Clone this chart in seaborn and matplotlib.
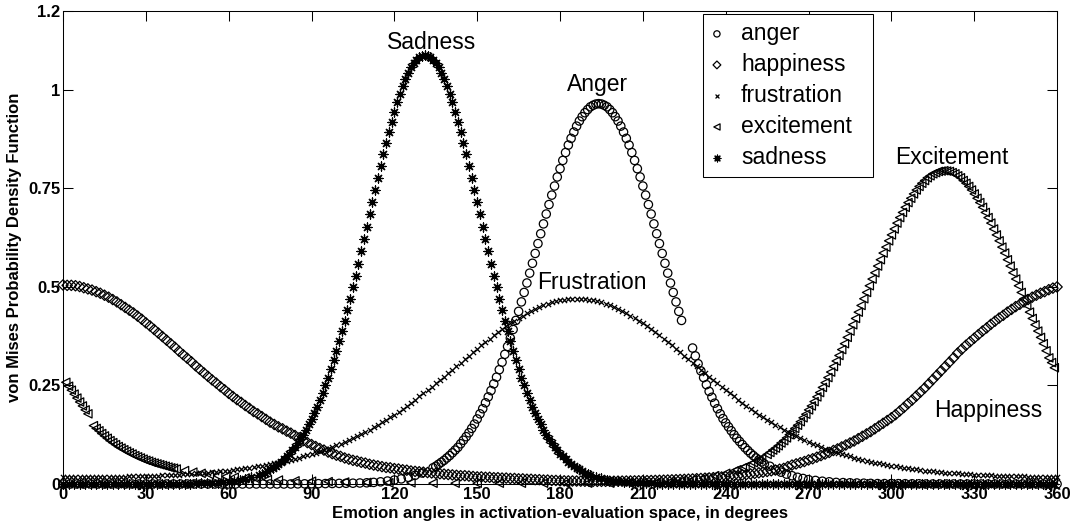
import matplotlib
matplotlib.use("Agg")
import matplotlib.pyplot as plt
import numpy as np
import seaborn as sns

# von Mises pdf values (angles in degrees).
# each emotion has a main reading and a second, in-between reading
# because the original markers are packed very tightly.

# anger, peak ~0.965 near 194 deg
anger_x = (list(range(0, 131, 5)) + list(range(134, 225, 2)) + list(range(228, 255, 2))
           + [258, 262, 266, 270] + list(range(275, 361, 5)))
anger_y = [0, 0, 0, 0, 0, 0, 0, 0, 0, 0, 0, 0, 0, 0, 0, 0, 0,
           0.0003, 0.0006, 0.001, 0.0015, 0.002, 0.003, 0.0055, 0.010, 0.017, 0.028,
           0.041, 0.050, 0.060, 0.072, 0.086, 0.102, 0.120, 0.141, 0.165, 0.191,
           0.221, 0.254, 0.290, 0.329, 0.370, 0.415, 0.462, 0.510, 0.560, 0.610,
           0.660, 0.709, 0.756, 0.800, 0.841, 0.877, 0.908, 0.932, 0.950, 0.961, 0.965,
           0.961, 0.950, 0.932, 0.908, 0.877, 0.841, 0.800, 0.756, 0.709, 0.660,
           0.610, 0.560, 0.510, 0.462, 0.415,
           0.345, 0.305, 0.270, 0.235, 0.205, 0.178, 0.155, 0.135, 0.116, 0.100,
           0.085, 0.072, 0.061, 0.051,
           0.036, 0.025, 0.017, 0.011,
           0.007, 0.004, 0.003, 0.002, 0.001, 0.001, 0.0007, 0.0005,
           0, 0, 0, 0, 0, 0, 0, 0, 0, 0]
anger_x_mid = (list(np.arange(2.5, 130, 5)) + list(range(135, 224, 2)) + list(range(229, 254, 2))
               + [256, 260, 264, 268] + list(np.arange(272.5, 360, 5)))
anger_y_mid = [0, 0, 0, 0, 0, 0, 0, 0, 0, 0, 0, 0, 0, 0, 0, 0, 0,
               0.0004, 0.0008, 0.0012, 0.0018, 0.0025, 0.004, 0.0075, 0.013, 0.022,
               0.045, 0.055, 0.066, 0.079, 0.093, 0.111, 0.130, 0.152, 0.178, 0.206,
               0.237, 0.271, 0.309, 0.349, 0.392, 0.438, 0.486, 0.535, 0.585, 0.635,
               0.685, 0.733, 0.779, 0.821, 0.860, 0.893, 0.921, 0.942, 0.957, 0.964,
               0.964, 0.957, 0.942, 0.921, 0.893, 0.860, 0.821, 0.779, 0.733, 0.685,
               0.635, 0.585, 0.535, 0.486, 0.438,
               0.325, 0.287, 0.252, 0.220, 0.191, 0.166, 0.145, 0.125, 0.108, 0.092,
               0.078, 0.066, 0.056,
               0.045, 0.030, 0.021, 0.014,
               0.009, 0.0055, 0.0035, 0.0025, 0.0015, 0.001, 0.0008, 0.0006,
               0, 0, 0, 0, 0, 0, 0, 0, 0, 0]

# happiness, peak ~0.5 at 0/360 deg
hap_x = list(range(0, 361, 3))
hap_y = [0.505, 0.504, 0.501, 0.495, 0.488, 0.479, 0.468, 0.455, 0.441, 0.426,
         0.409, 0.392, 0.374, 0.356, 0.337, 0.319, 0.300, 0.282, 0.264, 0.247,
         0.230, 0.214, 0.199, 0.184, 0.171, 0.157, 0.145, 0.134, 0.123,
         0.110, 0.100, 0.090, 0.081, 0.073, 0.066, 0.060, 0.055, 0.050, 0.046,
         0.042, 0.039, 0.036, 0.033, 0.031, 0.029, 0.027, 0.025, 0.023, 0.021,
         0.020, 0.018, 0.017, 0.016, 0.015, 0.014, 0.013, 0.012, 0.011, 0.010,
         0.009, 0.008,
         0.0078, 0.0074, 0.0070, 0.0067, 0.0067, 0.0069, 0.0072, 0.0075, 0.0079, 0.0083,
         0.0088, 0.0094, 0.0101, 0.0109, 0.0118, 0.0128, 0.014, 0.0154, 0.0169, 0.0186,
         0.0206, 0.0229, 0.0254, 0.0284, 0.0317, 0.0354, 0.0396, 0.048, 0.054, 0.061,
         0.068, 0.076, 0.085, 0.094, 0.104, 0.115, 0.127, 0.140, 0.154, 0.168,
         0.185, 0.204, 0.223, 0.243, 0.265, 0.287, 0.309, 0.332, 0.352, 0.370,
         0.388, 0.405, 0.421, 0.436, 0.450, 0.462, 0.474, 0.484, 0.493, 0.500]
hap_x_mid = list(np.arange(1.5, 360, 3))
hap_y_mid = [0.504, 0.503, 0.498, 0.492, 0.484, 0.474, 0.462, 0.448, 0.434, 0.418,
             0.401, 0.383, 0.365, 0.347, 0.328, 0.310, 0.291, 0.273, 0.256, 0.239,
             0.222, 0.207, 0.192, 0.178, 0.164, 0.151, 0.140, 0.129, 0.117, 0.105,
             0.095, 0.086, 0.077, 0.070, 0.063, 0.058, 0.053, 0.048, 0.044, 0.041,
             0.038, 0.035, 0.032, 0.030, 0.028, 0.026, 0.024, 0.022, 0.021, 0.019,
             0.018, 0.017, 0.016, 0.015, 0.014, 0.013, 0.012, 0.011, 0.010, 0.009,
             0.008, 0.0076, 0.0072, 0.0068, 0.0067, 0.0068, 0.0070, 0.0073, 0.0077, 0.0081,
             0.0085, 0.0091, 0.0097, 0.0105, 0.0113, 0.0123, 0.0134, 0.0147, 0.0161, 0.0177,
             0.0196, 0.0217, 0.0241, 0.0269, 0.030, 0.0335, 0.0375, 0.044, 0.051, 0.057,
             0.064, 0.072, 0.080, 0.089, 0.099, 0.109, 0.121, 0.133, 0.147, 0.161,
             0.176, 0.194, 0.213, 0.233, 0.254, 0.276, 0.298, 0.320, 0.342, 0.361,
             0.379, 0.396, 0.413, 0.428, 0.443, 0.456, 0.468, 0.479, 0.488, 0.497]

# frustration, broad peak ~0.47 near 186 deg
frus_x = list(range(0, 361, 3))
frus_y = [0.017, 0.017, 0.017, 0.017, 0.017, 0.018, 0.018, 0.018, 0.019, 0.019,
          0.020, 0.021, 0.022, 0.023, 0.024, 0.025, 0.027, 0.028, 0.030, 0.032,
          0.034, 0.037, 0.040, 0.043, 0.046, 0.050, 0.054, 0.059, 0.064, 0.070,
          0.076, 0.083, 0.090, 0.098, 0.107, 0.117, 0.127, 0.138, 0.150, 0.163,
          0.176, 0.191, 0.206, 0.222, 0.238, 0.255, 0.272, 0.290, 0.308, 0.325,
          0.343, 0.360, 0.377, 0.393, 0.408, 0.421, 0.434, 0.444, 0.453, 0.461,
          0.466, 0.469, 0.470,
          0.469, 0.466, 0.461, 0.453, 0.444, 0.434, 0.421, 0.408, 0.393, 0.377,
          0.360, 0.343, 0.325, 0.308, 0.290, 0.272, 0.255, 0.238, 0.222, 0.206,
          0.191, 0.176, 0.163, 0.150, 0.138, 0.127, 0.117, 0.107, 0.098, 0.090,
          0.083, 0.076, 0.070, 0.064, 0.059, 0.054, 0.050, 0.046, 0.043, 0.040,
          0.037, 0.034, 0.032, 0.030, 0.028, 0.027, 0.025, 0.024, 0.023, 0.022,
          0.021, 0.020, 0.019, 0.019, 0.018, 0.018, 0.018, 0.017]
frus_x_mid = list(np.arange(1.5, 360, 3))
frus_y_mid = [0.017, 0.017, 0.017, 0.017, 0.0175, 0.018, 0.018, 0.0185, 0.019, 0.0195,
              0.0205, 0.0215, 0.0225, 0.0235, 0.0245, 0.026, 0.0275, 0.029, 0.031, 0.033,
              0.0355, 0.0385, 0.0415, 0.0445, 0.048, 0.052, 0.0565, 0.0615, 0.067, 0.073,
              0.0795, 0.0865, 0.094, 0.1025, 0.112, 0.122, 0.1325, 0.144, 0.1565, 0.1695,
              0.1835, 0.1985, 0.214, 0.230, 0.2465, 0.2635, 0.281, 0.299, 0.3165, 0.334,
              0.3515, 0.3685, 0.385, 0.4005, 0.4145, 0.4275, 0.439, 0.4485, 0.457, 0.4635,
              0.4675, 0.4695,
              0.4695, 0.4675, 0.4635, 0.457, 0.4485, 0.439, 0.4275, 0.4145, 0.4005, 0.385,
              0.3685, 0.3515, 0.334, 0.3165, 0.299, 0.281, 0.2635, 0.2465, 0.230, 0.214,
              0.1985, 0.1835, 0.1695, 0.1565, 0.144, 0.1325, 0.122, 0.112, 0.1025, 0.094,
              0.0865, 0.0795, 0.073, 0.067, 0.0615, 0.0565, 0.052, 0.048, 0.0445, 0.0415,
              0.0385, 0.0355, 0.033, 0.031, 0.029, 0.0275, 0.026, 0.0245, 0.0235, 0.0225,
              0.0215, 0.0205, 0.0195, 0.019, 0.0185, 0.018, 0.018, 0.0175]

# excitement, peak ~0.795 near 319 deg (wraps past 360)
exc_x = ([1, 3, 5, 7, 9, 11, 13, 15, 17, 19, 21, 23, 25, 27, 29, 31, 33, 35, 37, 39, 41,
          44, 47, 50, 53, 56, 59, 62, 66, 70, 74, 78,
          84, 90, 96, 102, 110, 118, 126, 134, 142, 150, 158, 166, 174, 182, 190, 198,
          205, 210, 215, 220, 224, 228, 232, 236, 240, 243, 246, 249, 252, 255, 257]
         + list(range(259, 360, 2)))
exc_y = [0.258, 0.238, 0.218, 0.198, 0.178,
         0.148, 0.135, 0.122, 0.110, 0.100, 0.091, 0.083, 0.076, 0.069, 0.063,
         0.058, 0.053, 0.049, 0.045, 0.041, 0.038,
         0.034, 0.030, 0.027, 0.024, 0.021, 0.019, 0.017, 0.015, 0.013, 0.011, 0.010,
         0.008, 0.007, 0.006, 0.005, 0.004, 0.003, 0.003, 0.002, 0.002, 0.002,
         0.002, 0.002, 0.002, 0.002, 0.002, 0.002,
         0.0024, 0.0032, 0.0045, 0.0062, 0.0085, 0.011, 0.015, 0.021, 0.027, 0.033,
         0.041, 0.050, 0.061, 0.075, 0.086,
         0.097, 0.110, 0.125, 0.141, 0.158, 0.177, 0.198, 0.221, 0.245, 0.270,
         0.298, 0.326, 0.356, 0.388, 0.420, 0.453, 0.486, 0.520, 0.553, 0.586,
         0.617, 0.647, 0.676, 0.702, 0.725, 0.746, 0.763, 0.777, 0.787, 0.793, 0.795,
         0.793, 0.787, 0.777, 0.763, 0.746, 0.725, 0.702, 0.676, 0.647, 0.617,
         0.586, 0.553, 0.520, 0.486, 0.453, 0.420, 0.388, 0.356, 0.320, 0.295]
exc_x_mid = ([2, 4, 6, 8] + list(range(12, 41, 2)) + [244, 247, 250, 253, 256, 258]
             + list(range(260, 359, 2)))
exc_y_mid = [0.248, 0.228, 0.208, 0.188,
             0.141, 0.128, 0.116, 0.105, 0.095, 0.087, 0.079, 0.072, 0.066, 0.060,
             0.055, 0.051, 0.047, 0.043, 0.040,
             0.036, 0.044, 0.054, 0.066, 0.080, 0.091,
             0.104, 0.117, 0.133, 0.149, 0.168, 0.188, 0.209, 0.232, 0.257, 0.284,
             0.312, 0.341, 0.372, 0.404, 0.436, 0.470, 0.503, 0.536, 0.569, 0.601,
             0.632, 0.662, 0.689, 0.714, 0.736, 0.755, 0.770, 0.782, 0.790, 0.794,
             0.794, 0.790, 0.782, 0.770, 0.755, 0.736, 0.714, 0.689, 0.662, 0.632,
             0.601, 0.569, 0.536, 0.503, 0.470, 0.436, 0.404, 0.372, 0.338, 0.308]

# sadness, narrow peak ~1.09 near 131 deg
sad_x = list(range(0, 69, 4)) + list(range(71, 192, 2)) + list(range(195, 360, 4))
sad_y = [0, 0, 0, 0, 0, 0, 0, 0, 0, 0.0003, 0.0005, 0.0008, 0.0013, 0.0021, 0.0036,
         0.006, 0.0099, 0.0165,
         0.023, 0.029, 0.037, 0.046, 0.056, 0.070, 0.085, 0.104, 0.125, 0.151,
         0.180, 0.213, 0.250, 0.292, 0.338, 0.388, 0.442, 0.499, 0.559, 0.621,
         0.684, 0.746, 0.807, 0.866, 0.919, 0.968, 1.009, 1.043, 1.068, 1.083, 1.088,
         1.083, 1.068, 1.043, 1.009, 0.968, 0.919, 0.866, 0.807, 0.746, 0.684,
         0.621, 0.559, 0.499, 0.442, 0.388, 0.338, 0.292, 0.250, 0.213, 0.180,
         0.151, 0.125, 0.104, 0.085, 0.070, 0.056, 0.046, 0.037, 0.029, 0.023,
         0.0144, 0.0088, 0.0053, 0.0032, 0.0019, 0.0011, 0.0007,
         0, 0, 0, 0, 0, 0, 0, 0, 0, 0, 0, 0, 0, 0, 0, 0, 0, 0,
         0, 0, 0, 0, 0, 0, 0, 0, 0, 0, 0, 0, 0, 0, 0, 0, 0]
sad_x_mid = list(range(2, 67, 4)) + list(range(72, 191, 2)) + [193] + list(range(197, 358, 4))
sad_y_mid = [0, 0, 0, 0, 0, 0, 0, 0, 0, 0.0003, 0.0006, 0.001, 0.0017, 0.0028, 0.0046,
             0.0077, 0.0128,
             0.026, 0.033, 0.041, 0.051, 0.063, 0.077, 0.094, 0.114, 0.138, 0.165,
             0.196, 0.231, 0.270, 0.314, 0.362, 0.414, 0.470, 0.529, 0.590, 0.652,
             0.715, 0.777, 0.837, 0.893, 0.944, 0.990, 1.027, 1.057, 1.077, 1.087,
             1.087, 1.077, 1.057, 1.027, 0.990, 0.944, 0.893, 0.837, 0.777, 0.715,
             0.652, 0.590, 0.529, 0.470, 0.414, 0.362, 0.314, 0.270, 0.231, 0.196,
             0.165, 0.138, 0.114, 0.094, 0.077, 0.063, 0.051, 0.041, 0.033, 0.026,
             0.018, 0.0112, 0.0068, 0.0041, 0.0024, 0.0014, 0.0009, 0.0005,
             0, 0, 0, 0, 0, 0, 0, 0, 0, 0, 0, 0, 0, 0, 0, 0, 0,
             0, 0, 0, 0, 0, 0, 0, 0, 0, 0, 0, 0, 0, 0, 0, 0, 0]

x_ticks = [0, 30, 60, 90, 120, 150, 180, 210, 240, 270, 300, 330, 360]
y_ticks = [0, 0.25, 0.5, 0.75, 1, 1.2]
y_ticklabels = ["0", "0.25", "0.5", "0.75", "1", "1.2"]

sns.set_style("ticks", {"axes.edgecolor": "k", "xtick.color": "k", "ytick.color": "k",
                        "text.color": "k", "axes.labelcolor": "k"})
plt.rcParams["font.family"] = ["Liberation Sans", "DejaVu Sans"]

fig = plt.figure(figsize=(10.7, 5.29), dpi=100)
ax = fig.add_axes([0.0589, 0.0851, 0.929, 0.894])

common = dict(ax=ax, clip_on=False, linewidth=0.9, color="k")
sns.scatterplot(x=anger_x + anger_x_mid, y=anger_y + anger_y_mid, marker="o", s=36,
                facecolor="none", edgecolor="k", label="anger", **common)
sns.scatterplot(x=hap_x + hap_x_mid, y=hap_y + hap_y_mid, marker="D", s=28,
                facecolor="none", edgecolor="k", label="happiness", **common)
sns.scatterplot(x=frus_x + frus_x_mid, y=frus_y + frus_y_mid, marker="x", s=14,
                label="frustration", **common)
sns.scatterplot(x=exc_x + exc_x_mid, y=exc_y + exc_y_mid, marker="<", s=36,
                facecolor="none", edgecolor="k", label="excitement", **common)
sns.scatterplot(x=sad_x + sad_x_mid, y=sad_y + sad_y_mid, marker=(8, 2, 0), s=42,
                label="sadness", **common)

ax.set_xlim(0, 360)
ax.set_ylim(0, 1.2)
ax.set_xticks(x_ticks)
ax.set_yticks(y_ticks)
ax.set_yticklabels(y_ticklabels)
ax.tick_params(which="both", direction="in", top=True, right=True, length=7,
               width=0.75, labelsize=12, pad=2)
for lbl in ax.get_xticklabels() + ax.get_yticklabels():
    lbl.set_fontweight("bold")
for sp in ax.spines.values():
    sp.set_visible(True)
    sp.set_linewidth(0.75)

ax.set_xlabel("Emotion angles in activation-evaluation space, in degrees",
              fontsize=12, fontweight="bold", labelpad=3)
ax.set_ylabel("von Mises Probability Density Function",
              fontsize=12, fontweight="bold", labelpad=4)

# curve names
ax.text(133.6, 1.104, "Sadness", ha="center", va="baseline", fontsize=16.5)
ax.text(193.6, 0.997, "Anger", ha="center", va="baseline", fontsize=16.5)
ax.text(191.4, 0.496, "Frustration", ha="center", va="baseline", fontsize=16.5)
ax.text(321.8, 0.813, "Excitement", ha="center", va="baseline", fontsize=16.5)
ax.text(335.0, 0.170, "Happiness", ha="center", va="baseline", fontsize=16.5)

leg = ax.legend(loc="upper left", bbox_to_anchor=(0.644, 0.653, 0.171, 0.341),
                mode="expand", fontsize=16.5, frameon=True, fancybox=False,
                edgecolor="k", framealpha=1, borderaxespad=0, borderpad=0.35,
                labelspacing=0.35, handlelength=0.5, handletextpad=0.8,
                markerscale=0.75)
leg.get_frame().set_linewidth(0.75)

fig.savefig("out.png", dpi=100)
